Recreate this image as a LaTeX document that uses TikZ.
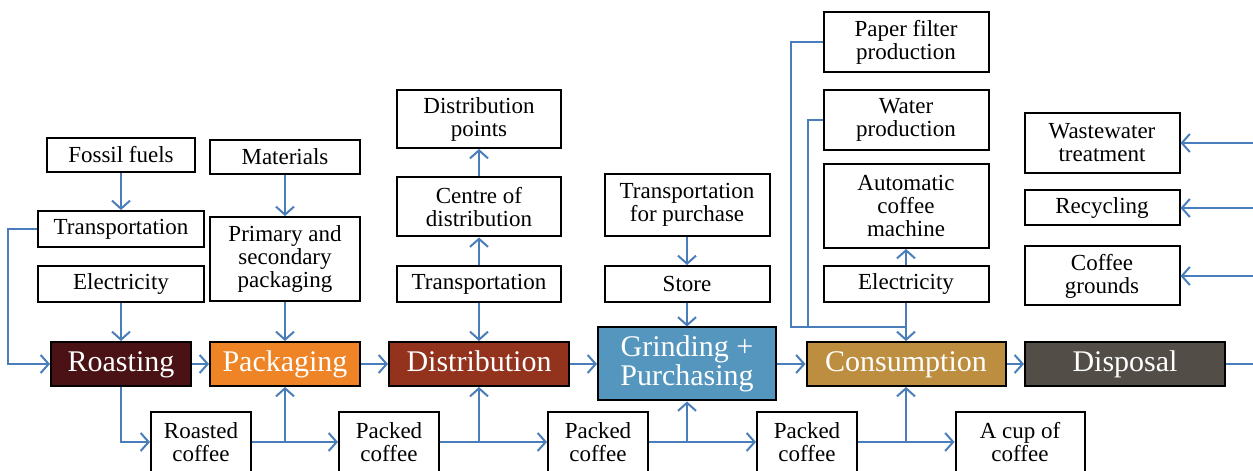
\documentclass[tikz,border=0pt]{standalone}
\usepackage{fontspec}
\setmainfont{Liberation Serif}
\usetikzlibrary{arrows.meta,positioning}
\definecolor{flowblue}{HTML}{4A7EBB}
\definecolor{roastbrown}{HTML}{4A1214}
\definecolor{packorange}{HTML}{EE8425}
\definecolor{distred}{HTML}{93321D}
\definecolor{grindblue}{HTML}{5596BF}
\definecolor{consgold}{HTML}{BD8E40}
\definecolor{dispgrey}{HTML}{524E47}
\begin{document}
\begin{tikzpicture}[every node/.style={draw,line width=1pt,align=center,inner sep=2pt},
	box/.style={fill=white,minimum width=83pt,minimum height=18pt,font=\fontsize{11.5}{11.5}\selectfont},
	stage/.style={text=white,minimum height=22pt,font=\fontsize{15}{14.5}\selectfont},
	oneline/.style={text height=10.5pt,text depth=3pt},
	flow/.style={draw=flowblue,line width=1pt,-{Straight Barb[length=4pt,width=9pt]}},
	link/.style={draw=flowblue,line width=1pt}]
			\useasboundingbox (-60.5pt,-53.5pt) rectangle (566pt,182pt);
			\clip (-60.5pt,-53.5pt) rectangle (566pt,182pt);
			\node[stage, oneline, fill=roastbrown, minimum width=70pt] (Roast) at (0,0) {Roasting};
			\node[stage, oneline, fill=packorange, minimum width=75pt, right of=Roast, node distance=82pt] (Pack) {Packaging};
			\node[stage, oneline, fill=distred, minimum width=90pt, right of=Pack, node distance=97pt] (Dist) {Distribution};
			\node[stage, fill=grindblue, minimum width=89pt, minimum height=36.5pt, right of=Dist, node distance=104pt] (Grind) {Grinding +\\Purchasing};
			\node[stage, oneline, fill=consgold, minimum width=99.5pt, right of=Grind, node distance=109.5pt] (Cons) {Consumption};
			\node[stage, oneline, fill=dispgrey, minimum width=100pt, right of=Cons, node distance=109.5pt] (Disp) {Disposal};
			
			\node[box, above of=Roast, node distance=40pt] (Elec1) {Electricity};
			\node[box, above of=Elec1, node distance=27.5pt] (Trans1) {Transportation};
			\node[box, above of=Trans1, node distance=37pt, minimum width=74pt, minimum height=17pt] (Fossil) {Fossil fuels};
			\node[box, above of=Pack, node distance=52.5pt, minimum width=75pt, minimum height=42pt] (Prim) {Primary and\\secondary\\packaging};
			\node[box, above of=Prim, node distance=51pt, minimum width=75pt, minimum height=17pt] (Mat) {Materials};
			\node[box, above of=Dist, node distance=40pt, minimum width=82pt] (Trans2) {Transportation};
			\node[box, above of=Trans2, node distance=38.5pt, minimum width=82pt, minimum height=29.5pt] (Centre) {Centre of\\distribution};
			\node[box, above of=Centre, node distance=44pt, minimum width=82pt, minimum height=29pt] (Points) {Distribution\\points};
			\node[box, above of=Grind, node distance=40pt, minimum width=82.5pt] (Store) {Store};
			\node[box, above of=Store, node distance=39.5pt, minimum width=82.5pt, minimum height=31pt] (TransBuy) {Transportation\\for purchase};
			\node[box, above of=Cons, node distance=40pt, minimum width=82.5pt] (Elec2) {Electricity};
			\node[box, above of=Elec2, node distance=39pt, minimum width=82.5pt, minimum height=42pt] (Machine) {Automatic\\coffee\\machine};
			\node[box, above of=Machine, node distance=43pt, minimum width=82.5pt, minimum height=30pt] (Water) {Water\\production};
			\node[box, above of=Water, node distance=39pt, minimum width=82.5pt, minimum height=30pt] (Filter) {Paper filter\\production};
			\node[box, above of=Disp, node distance=44pt, xshift=-11.5pt, minimum width=77.5pt, minimum height=29.5pt] (Grounds) {Coffee\\grounds};
			\node[box, above of=Grounds, node distance=34pt, minimum width=77.5pt, minimum height=17.5pt] (Recyc) {Recycling};
			\node[box, above of=Recyc, node distance=32.5pt, minimum width=77.5pt, minimum height=30pt] (Waste) {Wastewater\\treatment};
			
			\node[box, below of=Roast, node distance=39pt, xshift=40pt, minimum width=50pt, minimum height=30pt] (Roasted) {Roasted\\coffee};
			\node[box, right of=Roasted, node distance=94pt, minimum width=50pt, minimum height=30pt] (Packed1) {Packed\\coffee};
			\node[box, right of=Packed1, node distance=104.5pt, minimum width=50pt, minimum height=30pt] (Packed2) {Packed\\coffee};
			\node[box, right of=Packed2, node distance=104.5pt, minimum width=50pt, minimum height=30pt] (Packed3) {Packed\\coffee};
			\node[box, right of=Packed3, node distance=106.5pt, minimum width=64.5pt, minimum height=30pt] (Cup) {A cup of\\coffee};
			
			\coordinate[right of=Disp, node distance=64pt] (Edge);
			\coordinate[above of=Cons, node distance=18.5pt] (Join);
			
			\path (Fossil) edge[flow] (Trans1);
			\path (Elec1) edge[flow] (Roast);
			\path (Mat) edge[flow] (Prim);
			\path (Prim) edge[flow] (Pack);
			\path (Roast) edge[flow] (Pack);
			\path (Pack) edge[flow] (Dist);
			\path (Dist) edge[flow] (Grind);
			\path (Grind) edge[flow] (Cons);
			\path (Cons) edge[flow] (Disp);
			\path (Trans2) edge[flow] (Dist);
			\path (Trans2) edge[flow] (Centre);
			\path (Centre) edge[flow] (Points);
			\path (TransBuy) edge[flow] (Store);
			\path (Store) edge[flow] (Grind);
			\path (Elec2) edge[flow] (Machine);
			\path (Elec2) edge[flow] (Cons);
			\path (Roasted) edge[flow] (Packed1);
			\path (Packed1) edge[flow] (Packed2);
			\path (Packed2) edge[flow] (Packed3);
			\path (Packed3) edge[flow] (Cup);
			\path (Disp) edge[link] (Edge);
			
			\draw[flow] (Trans1.west) -- ++(-14.5pt,0) |- (Roast.west);
			\draw[flow] (Roast.south) |- (Roasted.west);
			\draw[flow] (Roasted.east -| Pack.south) -- (Pack.south);
			\draw[flow] (Packed1.east -| Dist.south) -- (Dist.south);
			\draw[flow] (Packed2.east -| Grind.south) -- (Grind.south);
			\draw[flow] (Packed3.east -| Cons.south) -- (Cons.south);
			\draw[link] (Filter.west) -- ++(-16pt,0) |- (Join);
			\draw[link] (Water.west) -- ++(-7.5pt,0) |- (Join);
			\draw[flow] (Waste -| Edge) -- (Waste.east);
			\draw[flow] (Recyc -| Edge) -- (Recyc.east);
			\draw[flow] (Grounds -| Edge) -- (Grounds.east);
		\end{tikzpicture}
\end{document}
